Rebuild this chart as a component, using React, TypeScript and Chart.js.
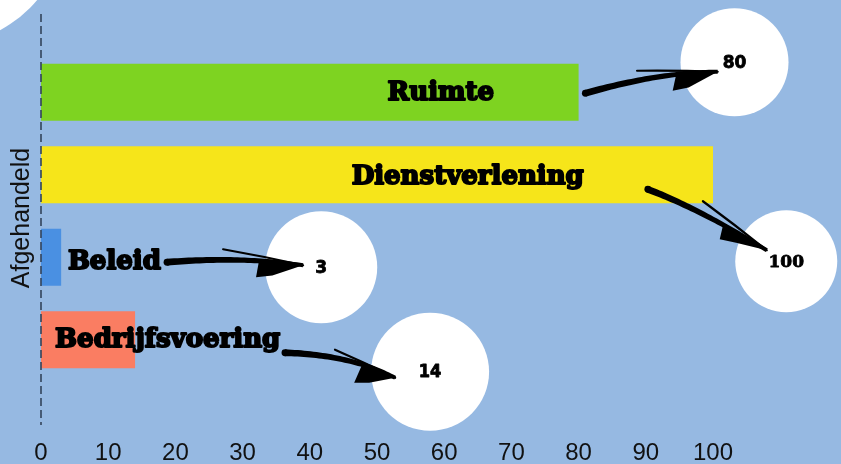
import { useEffect, useRef } from "react";
import { Chart, registerables } from "chart.js";

Chart.register(...registerables);

const categories = ["Ruimte", "Dienstverlening", "Beleid", "Bedrijfsvoering"];
const values = [80, 100, 3, 14];
const valueLabels = ["80", "100", "3", "14"];
const barColors = ["#7ed321", "#f6e51a", "#4a90e2", "#fa7d62"];
const axisTitle = "Afgehandeld";

type Pt = { v: number; dy: number };
type Deco = {
  label: Pt;
  align: CanvasTextAlign;
  circle: Pt;
  r: number;
  valueFont: string;
  tail: Pt;
  ctrl: Pt;
  tip: Pt;
  barb: Pt;
  thin: Pt;
};

const decos: Deco[] = [
  { label: { v: 59.5, dy: 1 }, align: "center", circle: { v: 103.2, dy: -30 }, r: 54,
    valueFont: "bold 17px 'DejaVu Sans', sans-serif",
    tail: { v: 81, dy: 1 }, ctrl: { v: 92, dy: -20 }, tip: { v: 100.7, dy: -20.5 }, barb: { v: 94, dy: -1.5 }, thin: { v: 88.7, dy: -21.5 } },
  { label: { v: 63.5, dy: 2.5 }, align: "center", circle: { v: 110.9, dy: 86.5 }, r: 51,
    valueFont: "bold 17px 'DejaVu Serif', serif",
    tail: { v: 90.3, dy: 14.5 }, ctrl: { v: 98.1, dy: 34.5 }, tip: { v: 108, dy: 75.5 }, barb: { v: 101, dy: 64.5 }, thin: { v: 98.5, dy: 26.5 } },
  { label: { v: 4, dy: 5 }, align: "left", circle: { v: 41.7, dy: 10 }, r: 56,
    valueFont: "bold 17px 'DejaVu Sans', sans-serif",
    tail: { v: 18.75, dy: 5 }, ctrl: { v: 29.6, dy: -1 }, tip: { v: 39, dy: 8 }, barb: { v: 32, dy: 20 }, thin: { v: 27.1, dy: -8 } },
  { label: { v: 2.1, dy: 0 }, align: "left", circle: { v: 57.9, dy: 32 }, r: 59,
    valueFont: "bold 18px 'DejaVu Sans Condensed', 'DejaVu Sans', sans-serif",
    tail: { v: 36.3, dy: 13 }, ctrl: { v: 46, dy: 15 }, tip: { v: 52.7, dy: 38 }, barb: { v: 46.6, dy: 43 }, thin: { v: 43.75, dy: 10 } },
];

function quad(a: number[], c: number[], b: number[], t: number) {
  const u = 1 - t;
  return [u * u * a[0] + 2 * u * t * c[0] + t * t * b[0], u * u * a[1] + 2 * u * t * c[1] + t * t * b[1]];
}
function quadD(a: number[], c: number[], b: number[], t: number) {
  const u = 1 - t;
  return [2 * u * (c[0] - a[0]) + 2 * t * (b[0] - c[0]), 2 * u * (c[1] - a[1]) + 2 * t * (b[1] - c[1])];
}

function brushArrow(ctx: CanvasRenderingContext2D, tail: number[], ctrl: number[], tip: number[], barb: number[], thin: number[]) {
  ctx.save();
  ctx.fillStyle = "#000";
  ctx.strokeStyle = "#000";
  const N = 40;
  const left: number[][] = [];
  const right: number[][] = [];
  for (let i = 0; i <= N; i++) {
    const t = i / N;
    const p = quad(tail, ctrl, tip, t);
    const d = quadD(tail, ctrl, tip, t);
    const len = Math.hypot(d[0], d[1]) || 1;
    const nx = -d[1] / len, ny = d[0] / len;
    const w = 3.4 * (1 - t) + 2.0 * t;
    left.push([p[0] + nx * w, p[1] + ny * w]);
    right.push([p[0] - nx * w, p[1] - ny * w]);
  }
  ctx.beginPath();
  ctx.moveTo(left[0][0], left[0][1]);
  left.forEach((p) => ctx.lineTo(p[0], p[1]));
  for (let i = right.length - 1; i >= 0; i--) ctx.lineTo(right[i][0], right[i][1]);
  ctx.closePath();
  ctx.fill();
  ctx.beginPath();
  ctx.arc(tail[0], tail[1], 3.4, 0, Math.PI * 2);
  ctx.fill();
  ctx.lineWidth = 2.2;
  ctx.lineCap = "round";
  ctx.beginPath();
  ctx.moveTo(thin[0], thin[1]);
  const mx = (thin[0] + tip[0]) / 2, my = (thin[1] + tip[1]) / 2 - 1;
  ctx.quadraticCurveTo(mx, my, tip[0], tip[1]);
  ctx.stroke();
  const back = quad(tail, ctrl, tip, 0.66);
  const bx = barb[0] + (tip[0] - barb[0]) * 0.22, by = barb[1] + (tip[1] - barb[1]) * 0.22;
  ctx.beginPath();
  ctx.moveTo(tip[0], tip[1]);
  ctx.lineTo(back[0], back[1]);
  ctx.lineTo(barb[0], barb[1]);
  ctx.lineTo(bx + 6, by + 1);
  ctx.closePath();
  ctx.fill();
  ctx.restore();
}

const decorPlugin = {
  id: "decor",
  beforeDraw(chart: any) {
    const ctx: CanvasRenderingContext2D = chart.ctx;
    ctx.save();
    ctx.fillStyle = "#96b9e2";
    ctx.fillRect(0, 0, chart.width, chart.height);
    ctx.fillStyle = "#ffffff";
    ctx.beginPath();
    ctx.arc(-62, -84, 130, 0, Math.PI * 2);
    ctx.fill();
    ctx.translate(22, 218);
    ctx.rotate(-Math.PI / 2);
    ctx.fillStyle = "#111";
    ctx.font = "25px 'Liberation Sans', Arial, sans-serif";
    ctx.textAlign = "center";
    ctx.textBaseline = "middle";
    ctx.fillText(axisTitle, 0, 0);
    ctx.restore();
  },
  afterDatasetsDraw(chart: any) {
    const ctx: CanvasRenderingContext2D = chart.ctx;
    const xs = chart.scales.x;
    const ys = chart.scales.y;
    const P = (p: Pt, i: number) => [xs.getPixelForValue(p.v), ys.getPixelForValue(i) + p.dy];
    ctx.save();
    const x0 = xs.getPixelForValue(0);
    ctx.strokeStyle = "#33445a";
    ctx.lineWidth = 1.6;
    ctx.setLineDash([8, 4]);
    ctx.beginPath();
    ctx.moveTo(x0, chart.chartArea.top - 37);
    ctx.lineTo(x0, chart.chartArea.bottom + 44);
    ctx.stroke();
    ctx.setLineDash([]);
    decos.forEach((d, i) => {
      const c = P(d.circle, i);
      ctx.fillStyle = "#ffffff";
      ctx.beginPath();
      ctx.arc(c[0], c[1], d.r, 0, Math.PI * 2);
      ctx.fill();
    });
    decos.forEach((d, i) => {
      brushArrow(ctx, P(d.tail, i), P(d.ctrl, i), P(d.tip, i), P(d.barb, i), P(d.thin, i));
    });
    ctx.textBaseline = "middle";
    decos.forEach((d, i) => {
      const p = P(d.label, i);
      ctx.font = "bold 26px 'DejaVu Serif', serif";
      ctx.textAlign = d.align;
      ctx.fillStyle = "#000";
      ctx.strokeStyle = "#000";
      ctx.lineWidth = 2;
      ctx.lineJoin = "round";
      ctx.strokeText(categories[i], p[0], p[1]);
      ctx.fillText(categories[i], p[0], p[1]);
      const c = P(d.circle, i);
      ctx.font = d.valueFont;
      ctx.textAlign = "center";
      ctx.lineWidth = 0.8;
      ctx.strokeText(valueLabels[i], c[0], c[1] + 1);
      ctx.fillText(valueLabels[i], c[0], c[1] + 1);
    });
    ctx.restore();
  },
};

export default function App() {
  const ref = useRef<HTMLCanvasElement | null>(null);
  useEffect(() => {
    if (!ref.current) return;
    const chart = new Chart(ref.current, {
      type: "bar",
      data: {
        labels: categories,
        datasets: [
          {
            data: values,
            backgroundColor: barColors,
            barPercentage: 0.69,
            categoryPercentage: 1,
            borderWidth: 0,
          },
        ],
      },
      options: {
        indexAxis: "y",
        animation: false,
        responsive: false,
        devicePixelRatio: 1,
        layout: { padding: { left: 41, right: 128, top: 51, bottom: 0 } },
        plugins: { legend: { display: false }, tooltip: { enabled: false } },
        scales: {
          x: {
            min: 0,
            max: 100,
            ticks: {
              stepSize: 10,
              padding: 58,
              maxRotation: 0,
              minRotation: 0,
              color: "#111",
              font: { family: "'Liberation Sans', Arial, sans-serif", size: 24 },
            },
            grid: { display: false, drawTicks: false },
            border: { display: false },
            afterFit: (s: any) => {
              s.height = 83;
              s.paddingLeft = 0;
              s.paddingRight = 0;
            },
          },
          y: {
            display: false,
            afterFit: (s: any) => {
              s.width = 0;
            },
          },
        },
      },
      plugins: [decorPlugin],
    } as any);
    return () => chart.destroy();
  }, []);
  return (
    <div style={{ position: "absolute", left: 0, top: 0, width: 841, height: 464 }}>
      <canvas ref={ref} width={841} height={464} style={{ display: "block", width: 841, height: 464 }} />
    </div>
  );
}
